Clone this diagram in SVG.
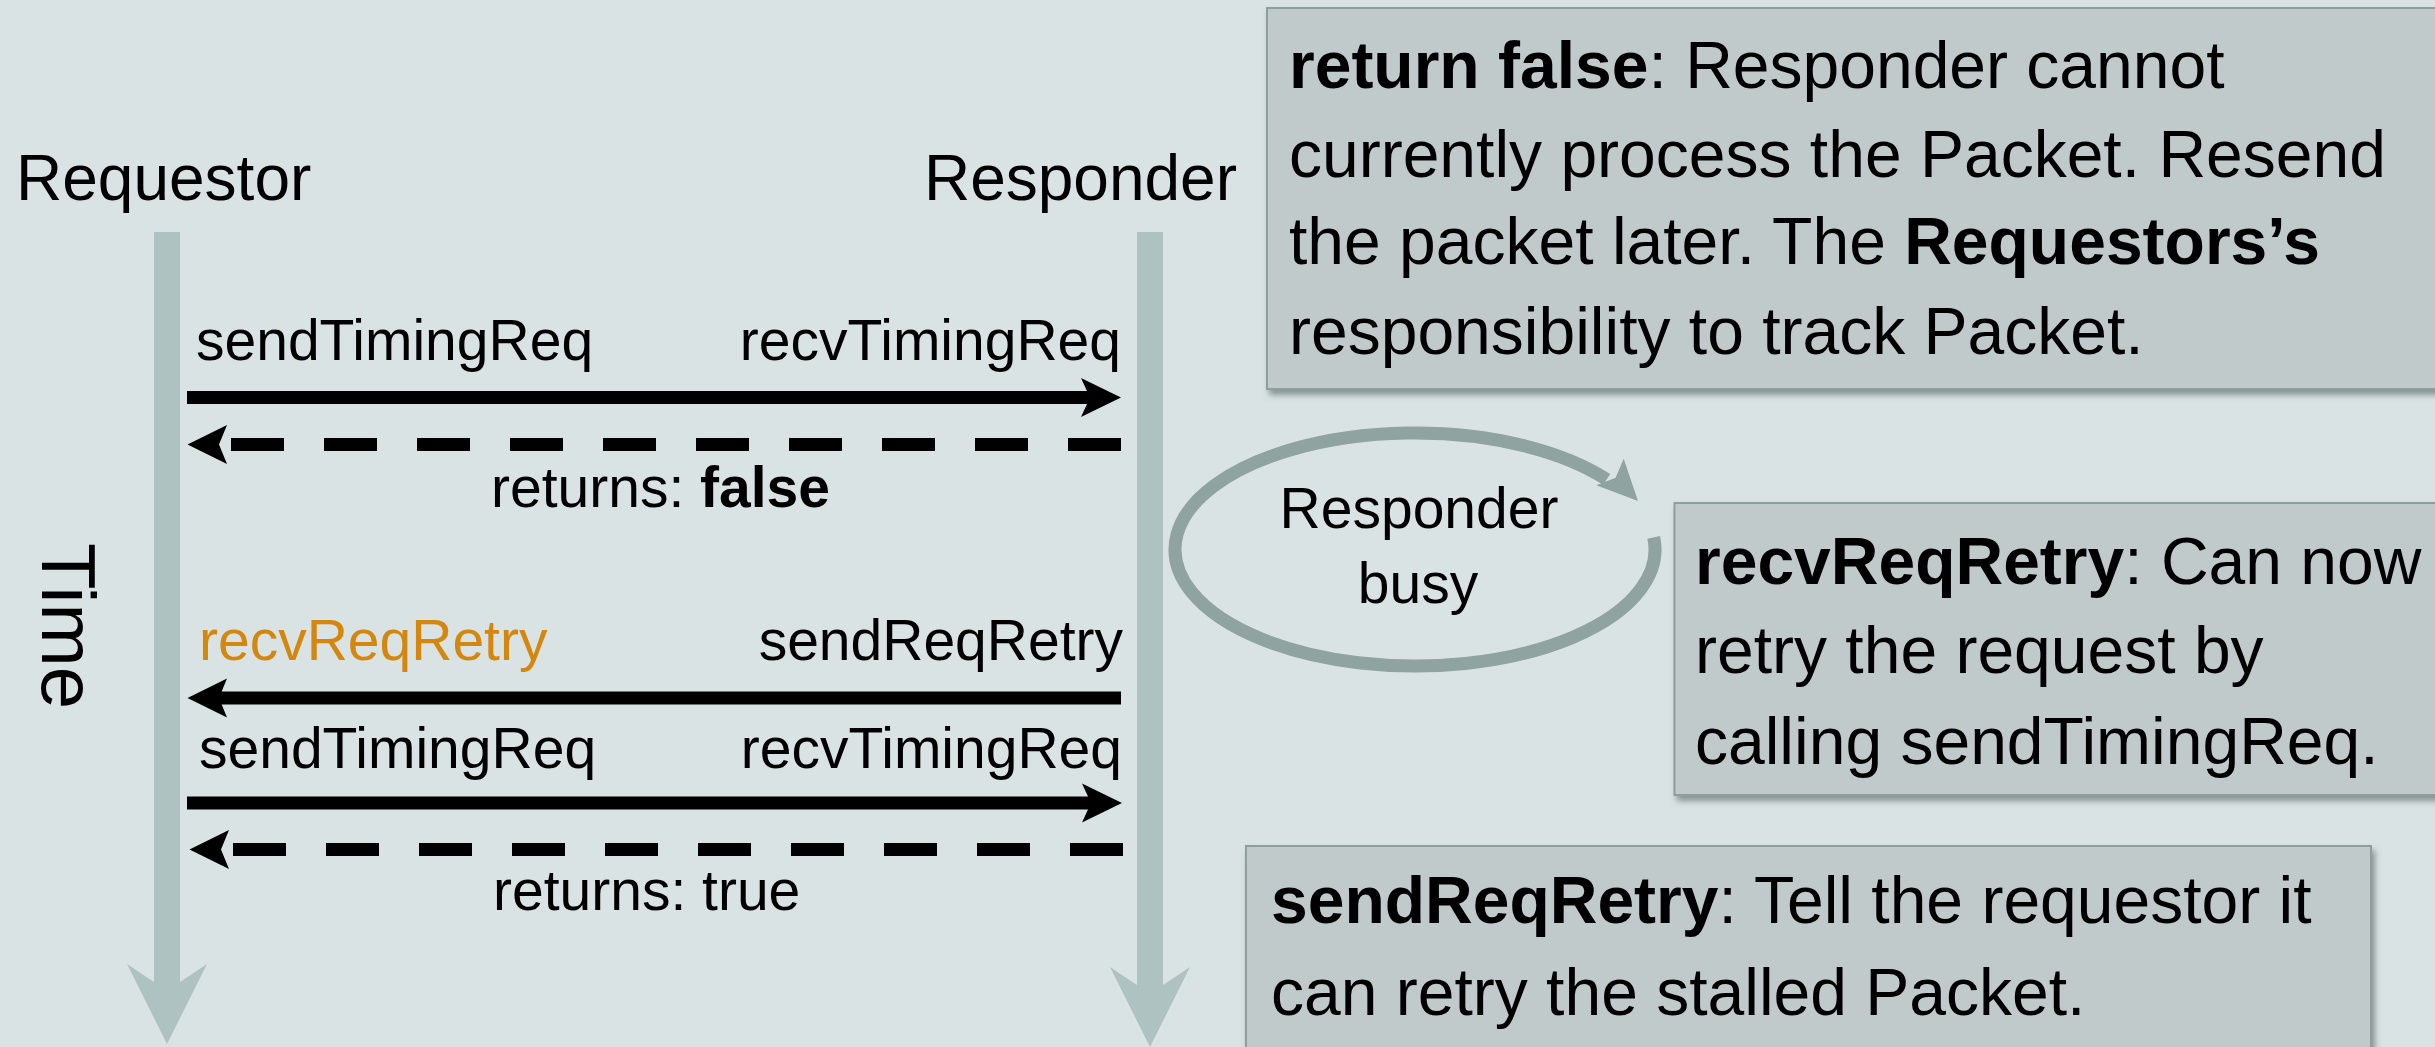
<svg xmlns="http://www.w3.org/2000/svg" width="2435" height="1047" viewBox="0 0 2435 1047">
  <defs>
    <style>
      text { font-family: "Liberation Sans", Arial, sans-serif; fill: #000; }
      .hdr { font-size: 64px; }
      .msg { font-size: 57px; }
      .note { font-size: 66px; }
      .b { font-weight: bold; }
      .orange { fill: #D4870F; }
      .life { fill: #AEC3C1; }
      .box { fill: #C0CACA; stroke: #8E9E9C; stroke-width: 2; filter: url(#shadow); }
      .solid { stroke: #000; stroke-width: 13; fill: none; }
      .dash { stroke: #000; stroke-width: 13; fill: none; stroke-dasharray: 53 40; }
      .head { fill: #000; }
    </style>
    <filter id="shadow" x="-5%" y="-10%" width="115%" height="130%">
      <feDropShadow dx="3" dy="5" stdDeviation="3" flood-color="#4F5F5E" flood-opacity="0.6"/>
    </filter>
  </defs>

  <rect x="0" y="0" width="2435" height="1047" fill="#DAE3E3"/>

  <!-- Requestor lifeline -->
  <g id="requestor">
    <text class="hdr" x="16" y="200">Requestor</text>
    <rect class="life" x="154" y="232" width="26" height="752"/>
    <polygon class="life" points="154,982 127,964 167,1044 207,964 180,982"/>
  </g>

  <!-- Responder lifeline -->
  <g id="responder">
    <text class="hdr" x="1237" y="200" text-anchor="end">Responder</text>
    <rect class="life" x="1137" y="232" width="26" height="755"/>
    <polygon class="life" points="1137,985 1110,967 1150,1047 1190,967 1163,985"/>
  </g>

  <!-- Time axis label -->
  <g id="time-label">
    <text transform="translate(42,543) rotate(90)" x="0" y="0" style="font-size:76px">Time</text>
  </g>

  <!-- Messages -->
  <g id="connectors">
    <!-- 1: sendTimingReq -> recvTimingReq -->
    <line class="solid" x1="187" y1="397.5" x2="1095" y2="397.5"/>
    <polygon class="head" points="1121,397.5 1081,378 1090,397.5 1081,417"/>
    <!-- 2: returns false (dashed) -->
    <line class="dash" x1="1121" y1="444.5" x2="228" y2="444.5"/>
    <polygon class="head" points="187.5,444.5 227,425 219,444.5 227,464"/>
    <!-- 3: sendReqRetry -> recvReqRetry -->
    <line class="solid" x1="1121" y1="698" x2="214" y2="698"/>
    <polygon class="head" points="187.5,698 227,678.5 219,698 227,717.5"/>
    <!-- 4: sendTimingReq -> recvTimingReq -->
    <line class="solid" x1="187" y1="803" x2="1096" y2="803"/>
    <polygon class="head" points="1122,803 1082,783.5 1091,803 1082,822.5"/>
    <!-- 5: returns true (dashed) -->
    <line class="dash" x1="1123" y1="849.5" x2="230" y2="849.5"/>
    <polygon class="head" points="189.5,849.5 229,830 221,849.5 229,869"/>
  </g>

  <g id="message-labels">
    <text class="msg" x="196" y="360">sendTimingReq</text>
    <text class="msg" x="1121" y="360" text-anchor="end">recvTimingReq</text>
    <text class="msg" x="491" y="507">returns: <tspan class="b">false</tspan></text>
    <text class="msg orange" x="199" y="660">recvReqRetry</text>
    <text class="msg" x="1123" y="660" text-anchor="end">sendReqRetry</text>
    <text class="msg" x="199" y="768">sendTimingReq</text>
    <text class="msg" x="1122" y="768" text-anchor="end">recvTimingReq</text>
    <text class="msg" x="493" y="910">returns: true</text>
  </g>

  <!-- Responder busy loop -->
  <g id="busy-loop">
    <path d="M1653.7,537.3 A240,116.5 0 1 1 1606.7,479.4" fill="none" stroke="#8FA3A0" stroke-width="13"/>
    <polygon points="1638,501 1623.7,458.8 1615.6,477.8 1596.3,485.2" fill="#8FA3A0"/>
    <text class="msg" x="1419" y="528" text-anchor="middle">Responder</text>
    <text class="msg" x="1418" y="603" text-anchor="middle">busy</text>
  </g>

  <!-- Note: return false -->
  <g id="note-return-false">
    <rect class="box" x="1267" y="8" width="1180" height="381"/>
    <text class="note" x="1289" y="88"><tspan class="b">return false</tspan>: Responder cannot</text>
    <text class="note" x="1289" y="177">currently process the Packet. Resend</text>
    <text class="note" x="1289" y="264">the packet later. The <tspan class="b">Requestors’s</tspan></text>
    <text class="note" x="1289" y="354">responsibility to track Packet.</text>
  </g>

  <!-- Note: recvReqRetry -->
  <g id="note-recv-retry">
    <rect class="box" x="1674.5" y="503" width="775" height="292"/>
    <text class="note" x="1695" y="584"><tspan class="b">recvReqRetry</tspan>: Can now</text>
    <text class="note" x="1695" y="673">retry the request by</text>
    <text class="note" x="1695" y="764">calling sendTimingReq.</text>
  </g>

  <!-- Note: sendReqRetry -->
  <g id="note-send-retry">
    <rect class="box" x="1246" y="846" width="1125" height="210"/>
    <text class="note" x="1271" y="923"><tspan class="b">sendReqRetry</tspan>: Tell the requestor it</text>
    <text class="note" x="1271" y="1015">can retry the stalled Packet.</text>
  </g>
</svg>
